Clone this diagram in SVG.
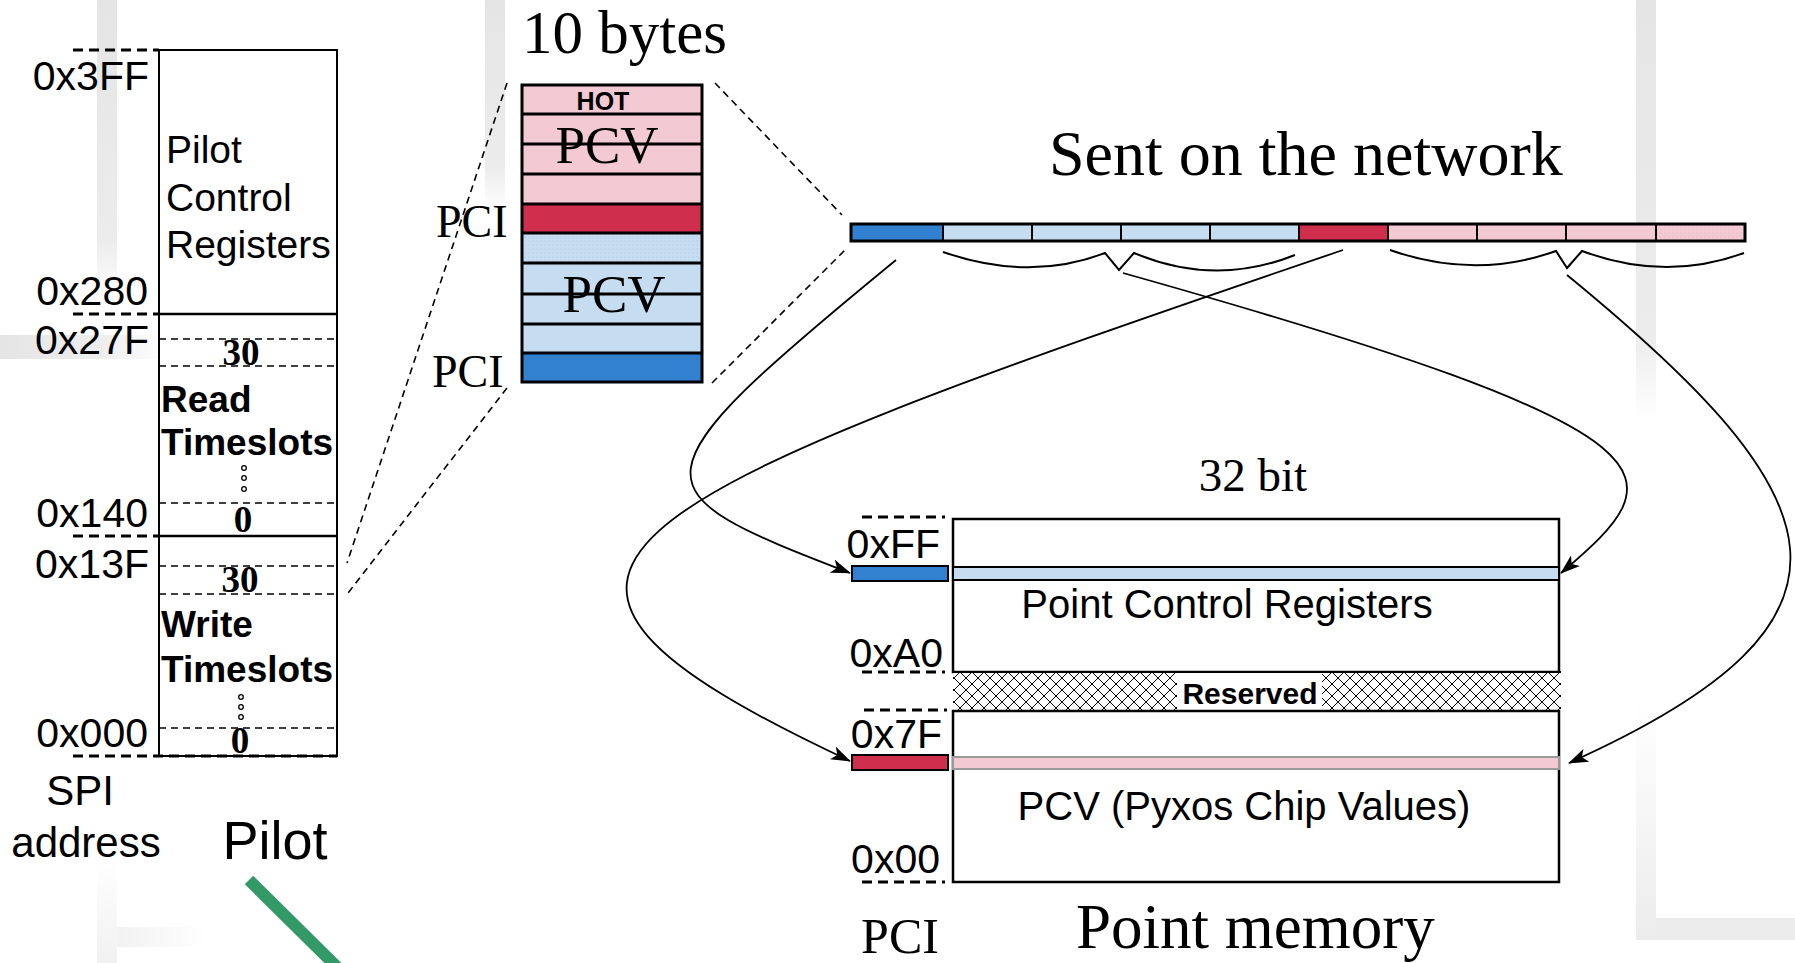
<svg xmlns="http://www.w3.org/2000/svg" width="1795" height="963" viewBox="0 0 1795 963">
<style>
.sans{font-family:"Liberation Sans",Arial,sans-serif;fill:#000}
.serif{font-family:"Liberation Serif","Times New Roman",serif;fill:#000}
.ln{stroke:#000;fill:none}
.dash{stroke:#000;stroke-width:1.6;stroke-dasharray:7 5;fill:none}
.lead{stroke:#000;stroke-width:3;stroke-dasharray:10 6;fill:none}
.conn{stroke:#000;stroke-width:1.8;fill:none;marker-end:url(#arr)}
.pink{fill:#F3CAD3}
.red{fill:#CF2F4D}
.lblue{fill:#C6DCF1}
.blue{fill:#3280D0}
</style>
<defs>
<marker id="arr" viewBox="0 0 20 14" refX="19" refY="7" markerWidth="20" markerHeight="14" orient="auto" markerUnits="userSpaceOnUse">
<path d="M0,0 L20,7 L0,14 L5,7 z" fill="#000"/>
</marker>
<pattern id="dotBlue" width="4" height="4" patternUnits="userSpaceOnUse">
<rect width="4" height="4" fill="#C6DCF1"/><circle cx="1" cy="1" r="0.6" fill="#A9C3DD"/>
</pattern>
<pattern id="dotPink" width="4" height="4" patternUnits="userSpaceOnUse">
<rect width="4" height="4" fill="#F3CAD3"/><circle cx="1" cy="1" r="0.6" fill="#DDB0BA"/>
</pattern>
<pattern id="hatch" width="12" height="12" patternUnits="userSpaceOnUse">
<rect width="12" height="12" fill="#fff"/>
<path d="M0,0 L12,12 M12,0 L0,12" stroke="#000" stroke-width="1"/>
</pattern>
<linearGradient id="gDown" x1="0" y1="0" x2="0" y2="1">
<stop offset="0" stop-color="#e5e5e5"/><stop offset="0.8" stop-color="#ececec"/><stop offset="1" stop-color="#ffffff"/>
</linearGradient>
<linearGradient id="gRight" x1="0" y1="0" x2="1" y2="0">
<stop offset="0" stop-color="#e5e5e5"/><stop offset="0.6" stop-color="#eeeeee"/><stop offset="1" stop-color="#ffffff"/>
</linearGradient>
<linearGradient id="gRightFaint" x1="0" y1="0" x2="1" y2="0">
<stop offset="0" stop-color="#f2f2f2"/><stop offset="1" stop-color="#ffffff"/>
</linearGradient>
<linearGradient id="gUp" x1="0" y1="1" x2="0" y2="0">
<stop offset="0" stop-color="#ececec"/><stop offset="1" stop-color="#ffffff"/>
</linearGradient>
<linearGradient id="gUpFaint" x1="0" y1="1" x2="0" y2="0">
<stop offset="0" stop-color="#f1f1f1"/><stop offset="1" stop-color="#ffffff"/>
</linearGradient>
</defs>

<rect width="1795" height="963" fill="#fff"/>

<g id="background">
<rect x="97" y="0" width="20" height="300" fill="url(#gDown)"/>
<rect x="0" y="335" width="170" height="24" fill="url(#gRight)"/>
<rect x="97" y="860" width="20" height="103" fill="url(#gUpFaint)"/>
<rect x="117" y="927" width="90" height="20" fill="url(#gRightFaint)"/>
<rect x="485" y="0" width="20" height="210" fill="url(#gDown)"/>
<rect x="1636" y="0" width="20" height="420" fill="url(#gDown)"/>
<rect x="1636" y="700" width="20" height="240" fill="url(#gUp)"/>
<rect x="1656" y="918" width="139" height="22" fill="#ececec"/>
</g>

<g id="pilot">
<rect x="159" y="50" width="178" height="706" fill="#fff" stroke="#000" stroke-width="2"/>
<line class="ln" x1="159" y1="314" x2="337" y2="314" stroke-width="2.5"/>
<line class="ln" x1="159" y1="536" x2="337" y2="536" stroke-width="2.5"/>
<line class="dash" x1="159" y1="339" x2="337" y2="339"/>
<line class="dash" x1="159" y1="366" x2="337" y2="366"/>
<line class="dash" x1="159" y1="503" x2="337" y2="503"/>
<line class="dash" x1="159" y1="566" x2="337" y2="566"/>
<line class="dash" x1="159" y1="594" x2="337" y2="594"/>
<line class="dash" x1="159" y1="728" x2="337" y2="728"/>
<line class="lead" x1="73" y1="50" x2="159" y2="50"/>
<line class="lead" x1="73" y1="314" x2="159" y2="314"/>
<line class="lead" x1="73" y1="536" x2="159" y2="536"/>
<line class="lead" x1="73" y1="756" x2="337" y2="756"/>
<text class="sans" x="166" y="163" font-size="39">Pilot</text>
<text class="sans" x="166" y="211" font-size="39">Control</text>
<text class="sans" x="166" y="258" font-size="39">Registers</text>
<text class="serif" x="241" y="365" font-size="37" font-weight="bold" text-anchor="middle">30</text>
<text class="sans" x="161" y="412" font-size="37" font-weight="bold">Read</text>
<text class="sans" x="161" y="455" font-size="37" font-weight="bold">Timeslots</text>
<g fill="#fff" stroke="#000" stroke-width="1.3">
<circle cx="244" cy="468" r="2.3"/><circle cx="244" cy="478" r="2.3"/><circle cx="244" cy="489" r="2.3"/>
<circle cx="241" cy="697" r="2.3"/><circle cx="241" cy="707" r="2.3"/><circle cx="241" cy="717" r="2.3"/>
</g>
<text class="serif" x="243" y="532" font-size="37" font-weight="bold" text-anchor="middle">0</text>
<text class="serif" x="240" y="592" font-size="37" font-weight="bold" text-anchor="middle">30</text>
<text class="sans" x="161" y="637" font-size="37" font-weight="bold">Write</text>
<text class="sans" x="161" y="682" font-size="37" font-weight="bold">Timeslots</text>
<text class="serif" x="240" y="753" font-size="37" font-weight="bold" text-anchor="middle">0</text>
<g class="sans" font-size="41" text-anchor="end">
<text x="149" y="90">0x3FF</text>
<text x="148" y="305">0x280</text>
<text x="149" y="354">0x27F</text>
<text x="148" y="527">0x140</text>
<text x="149" y="578">0x13F</text>
<text x="148" y="747">0x000</text>
</g>
<text class="sans" x="80" y="805" font-size="42" text-anchor="middle">SPI</text>
<text class="sans" x="86" y="857" font-size="42" text-anchor="middle">address</text>
<text class="sans" x="275" y="859" font-size="54" text-anchor="middle">Pilot</text>
<line x1="249" y1="880" x2="340" y2="970" stroke="#339966" stroke-width="12"/>
</g>

<g id="stack">
<text class="serif" x="522" y="53" font-size="61">10 bytes</text>
<rect class="pink" x="522" y="85" width="180" height="119"/>
<rect class="red" x="522" y="204" width="180" height="29"/>
<rect x="522" y="233" width="180" height="30" fill="url(#dotBlue)"/>
<rect class="lblue" x="522" y="263" width="180" height="90"/>
<rect class="blue" x="522" y="353" width="180" height="29"/>
<text class="sans" x="603" y="110" font-size="25" font-weight="bold" text-anchor="middle">HOT</text>
<text class="serif" x="607" y="163" font-size="53" text-anchor="middle">PCV</text>
<text class="serif" x="614" y="312" font-size="53" text-anchor="middle">PCV</text>
<g class="ln" stroke-width="3">
<line x1="522" y1="114" x2="702" y2="114"/>
<line x1="522" y1="144" x2="702" y2="144"/>
<line x1="522" y1="174" x2="702" y2="174"/>
<line x1="522" y1="204" x2="702" y2="204"/>
<line x1="522" y1="233" x2="702" y2="233"/>
<line x1="522" y1="263" x2="702" y2="263"/>
<line x1="522" y1="294" x2="702" y2="294"/>
<line x1="522" y1="324" x2="702" y2="324"/>
<line x1="522" y1="353" x2="702" y2="353"/>
<rect x="522" y="85" width="180" height="297"/>
</g>
<text class="serif" x="436" y="237" font-size="46">PCI</text>
<text class="serif" x="432" y="387" font-size="46">PCI</text>
</g>

<g id="bitstream">
<text class="serif" x="1049" y="175" font-size="64">Sent on the network</text>
<rect class="blue" x="851" y="224" width="92" height="17"/>
<rect class="lblue" x="943" y="224" width="356" height="17"/>
<rect class="red" x="1299" y="224" width="89" height="17"/>
<rect class="pink" x="1388" y="224" width="268" height="17"/>
<rect x="1656" y="224" width="89" height="17" fill="url(#dotPink)"/>
<g class="ln" stroke-width="2">
<line x1="943" y1="224" x2="943" y2="241"/>
<line x1="1032" y1="224" x2="1032" y2="241"/>
<line x1="1121" y1="224" x2="1121" y2="241"/>
<line x1="1210" y1="224" x2="1210" y2="241"/>
<line x1="1299" y1="224" x2="1299" y2="241"/>
<line x1="1388" y1="224" x2="1388" y2="241"/>
<line x1="1477" y1="224" x2="1477" y2="241"/>
<line x1="1566" y1="224" x2="1566" y2="241"/>
<line x1="1656" y1="224" x2="1656" y2="241"/>
<rect x="851" y="224" width="894" height="17" stroke-width="3"/>
</g>
<path class="ln" stroke-width="2" d="M943,252 Q1030,282 1105,253 L1119,270 L1134,253 Q1215,287 1295,255"/>
<path class="ln" stroke-width="2" d="M1390,250 Q1475,280 1556,251 L1567,268 L1582,251 Q1665,282 1744,253"/>
</g>

<g id="point-memory">
<text class="serif" x="1253" y="491" font-size="47" text-anchor="middle">32 bit</text>
<rect x="953" y="519" width="606" height="153" fill="#fff" stroke="#000" stroke-width="2.5"/>
<rect class="lblue" x="953" y="567" width="606" height="13" stroke="#000" stroke-width="2"/>
<rect x="953" y="672" width="608" height="39" fill="url(#hatch)"/>
<rect x="1177" y="673" width="145" height="37" fill="#fff"/>
<text class="sans" x="1250" y="704" font-size="30" font-weight="bold" text-anchor="middle">Reserved</text>
<rect x="953" y="711" width="606" height="171" fill="#fff" stroke="#000" stroke-width="2.5"/>
<rect class="pink" x="953" y="757" width="606" height="12" stroke="#999" stroke-width="2"/>
<line class="ln" x1="953" y1="672" x2="1561" y2="672" stroke-width="2"/>
<text class="sans" x="1227" y="618" font-size="40" text-anchor="middle">Point Control Registers</text>
<text class="sans" x="1244" y="820" font-size="40" text-anchor="middle">PCV (Pyxos Chip Values)</text>
<rect class="blue" x="852" y="566" width="96" height="15" stroke="#000" stroke-width="2"/>
<rect class="red" x="852" y="755" width="96" height="15" stroke="#000" stroke-width="2"/>
<g class="sans" font-size="41" text-anchor="end">
<text x="940" y="558">0xFF</text>
<text x="943" y="667">0xA0</text>
<text x="942" y="748">0x7F</text>
<text x="940" y="873">0x00</text>
</g>
<line class="lead" x1="862" y1="517" x2="945" y2="517"/>
<line class="lead" x1="862" y1="672" x2="945" y2="672"/>
<line class="lead" x1="864" y1="710" x2="947" y2="710"/>
<line class="lead" x1="862" y1="882" x2="945" y2="882"/>
<text class="serif" x="900" y="953" font-size="50" text-anchor="middle">PCI</text>
<text class="serif" x="1076" y="948" font-size="63">Point memory</text>
</g>

<g id="connectors">
<line class="dash" x1="507" y1="83" x2="347" y2="563"/>
<line class="dash" x1="507" y1="388" x2="348" y2="593"/>
<line class="dash" x1="715" y1="83" x2="842" y2="215"/>
<line class="dash" x1="712" y1="383" x2="847" y2="248"/>
<path class="conn" d="M896,260 C625,482 635,490 850,573"/>
<path class="conn" d="M1343,250 C585,508 442,570 850,761"/>
<path class="conn" d="M1123,273 C1699,435 1677,475 1561,573"/>
<path class="conn" d="M1567,275 C1838,497 1890,619 1569,763"/>
</g>
</svg>
